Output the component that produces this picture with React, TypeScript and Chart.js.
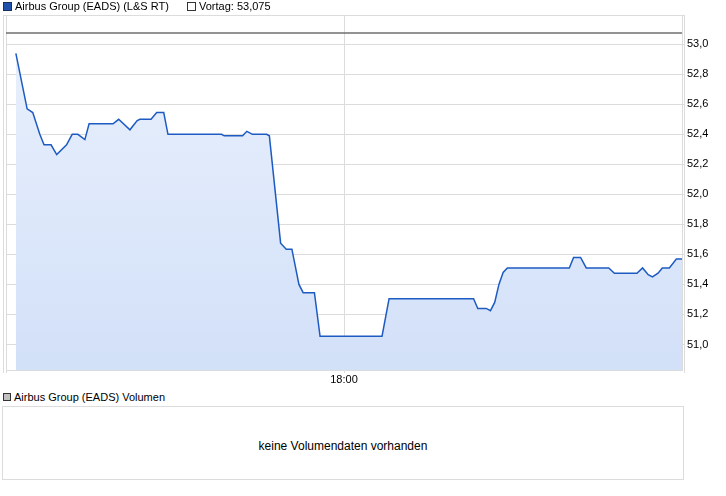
import React, { useEffect, useRef } from "react";
import { Chart, registerables } from "chart.js";

Chart.register(...registerables);

// ---- data ----
const SERIES_NAME = "Airbus Group (EADS) (L&S RT)";
const PREV_LABEL = "Vortag: 53,075";
const PREV_CLOSE = 53.075;
const VOLUME_LABEL = "Airbus Group (EADS) Volumen";
const VOLUME_EMPTY = "keine Volumendaten vorhanden";

const TIMES = [
  "14:07", "14:15", "14:19", "14:24", "14:27", "14:32", "14:36", "14:43", "14:47", "14:51",
  "14:56", "14:59", "15:16", "15:20", "15:28", "15:33", "15:35", "15:43", "15:47", "15:52",
  "15:55", "16:33", "16:35", "16:48", "16:51", "16:55", "17:05", "17:07", "17:15", "17:19",
  "17:23", "17:28", "17:31", "17:39", "17:43", "18:27", "18:32", "19:32", "19:35", "19:41",
  "19:44", "19:47", "19:50", "19:53", "19:56", "20:40", "20:43", "20:48", "20:52", "21:08",
  "21:12", "21:28", "21:32", "21:36", "21:39", "21:43", "21:46", "21:51", "21:56", "22:00",
];
const PRICES = [
  52.94, 52.57, 52.545, 52.40, 52.33, 52.33, 52.265, 52.33, 52.40, 52.40,
  52.365, 52.47, 52.47, 52.50, 52.43, 52.49, 52.50, 52.50, 52.545, 52.545,
  52.40, 52.40, 52.39, 52.39, 52.42, 52.40, 52.40, 52.39, 51.675, 51.635,
  51.635, 51.40, 51.345, 51.345, 51.055, 51.055, 51.305, 51.305, 51.24, 51.24,
  51.225, 51.28, 51.40, 51.48, 51.51, 51.51, 51.58, 51.58, 51.51, 51.51,
  51.475, 51.475, 51.51, 51.465, 51.45, 51.475, 51.51, 51.51, 51.57, 51.57,
];
const X_START = "14:00";
const X_END = "22:00";
const X_TICKS = ["18:00"];
const Y_TICKS = [51.0, 51.2, 51.4, 51.6, 51.8, 52.0, 52.2, 52.4, 52.6, 52.8, 53.0];
const Y_MIN = 50.83;
const Y_MAX = 53.195;

const FONT = "'Liberation Sans', Arial, sans-serif";
const GRID = "#dcdcdc";

function toMin(t: string): number {
  const [h, m] = t.split(":").map(Number);
  const [h0, m0] = X_START.split(":").map(Number);
  return h * 60 + m - (h0 * 60 + m0);
}

const framePlugin = {
  id: "frame",
  beforeDatasetsDraw(chart: any) {
    const { ctx, chartArea } = chart;
    if (!chartArea) return;
    const { left, right, top, bottom } = chartArea;
    ctx.save();
    ctx.strokeStyle = GRID;
    ctx.lineWidth = 1;
    ctx.beginPath();
    ctx.moveTo(left - 2.5, top + 0.5);
    ctx.lineTo(right + 2.5, top + 0.5);
    ctx.moveTo(left - 2.5, top);
    ctx.lineTo(left - 2.5, bottom + 3);
    ctx.moveTo(left + 0.5, top);
    ctx.lineTo(left + 0.5, bottom + 3);
    ctx.moveTo(right + 2.5, top);
    ctx.lineTo(right + 2.5, bottom + 3);
    ctx.stroke();
    ctx.restore();
  },
};

export default function App() {
  const ref = useRef<HTMLCanvasElement | null>(null);

  useEffect(() => {
    const canvas = ref.current;
    if (!canvas) return;
    const points = TIMES.map((t, i) => ({ x: toMin(t), y: PRICES[i] }));
    const prev = [
      { x: toMin(X_START), y: PREV_CLOSE },
      { x: toMin(X_END), y: PREV_CLOSE },
    ];
    const chart = new Chart(canvas, {
      type: "line",
      data: {
        datasets: [
          {
            label: "Vortag",
            data: prev,
            borderColor: "#6f6f6f",
            borderWidth: 1.5,
            pointRadius: 0,
            fill: false,
            order: 0,
          },
          {
            label: SERIES_NAME,
            data: points,
            borderColor: "#1d5bc2",
            borderWidth: 1.5,
            pointRadius: 0,
            tension: 0,
            fill: "start",
            order: 1,
            backgroundColor: (c: any) => {
              const area = c.chart.chartArea;
              if (!area) return "#dfe9f9";
              const g = c.chart.ctx.createLinearGradient(0, area.top, 0, area.bottom);
              g.addColorStop(0, "#eaf1fc");
              g.addColorStop(1, "#d2e0f8");
              return g;
            },
          },
        ],
      },
      options: {
        animation: false,
        responsive: false,
        maintainAspectRatio: false,
        devicePixelRatio: 1,
        layout: { padding: { top: 15, left: 6, right: 0, bottom: 0 } },
        plugins: {
          legend: { display: false },
          tooltip: { enabled: false },
        },
        scales: {
          x: {
            type: "linear",
            min: toMin(X_START),
            max: toMin(X_END),
            afterBuildTicks: (scale: any) => {
              scale.ticks = X_TICKS.map((t) => ({ value: toMin(t) }));
            },
            afterFit: (scale: any) => {
              scale.height = 20;
            },
            ticks: {
              autoSkip: false,
              maxRotation: 0,
              padding: 0,
              color: "#000",
              font: { family: FONT, size: 11 },
              callback: (v: any) => {
                const i = X_TICKS.findIndex((t) => toMin(t) === v);
                return i >= 0 ? X_TICKS[i] : "";
              },
            },
            grid: { color: GRID, tickLength: 3, drawTicks: true },
            border: { color: GRID },
          },
          y: {
            type: "linear",
            position: "right",
            min: Y_MIN,
            max: Y_MAX,
            afterBuildTicks: (scale: any) => {
              scale.ticks = Y_TICKS.map((v) => ({ value: v }));
            },
            afterFit: (scale: any) => {
              scale.width = 44;
            },
            ticks: {
              padding: 2,
              color: "#000",
              font: { family: FONT, size: 11 },
              callback: (v: any) => Number(v).toFixed(1).replace(".", ","),
            },
            grid: { color: GRID, tickLength: 3 },
            border: { color: GRID },
          },
        },
      },
      plugins: [framePlugin],
    } as any);
    return () => chart.destroy();
  }, []);

  const text: React.CSSProperties = {
    position: "absolute",
    fontFamily: FONT,
    fontSize: 11,
    color: "#000",
    lineHeight: "12px",
    whiteSpace: "nowrap",
  };

  return (
    <div
      style={{
        position: "fixed",
        left: 0,
        top: 0,
        width: 726,
        height: 496,
        background: "#fff",
        overflow: "hidden",
      }}
    >
      <canvas
        ref={ref}
        width={726}
        height={390}
        style={{ position: "absolute", left: 0, top: 0, width: 726, height: 390 }}
      />
      {/* top legend */}
      <div
        style={{
          position: "absolute",
          left: 3,
          top: 2,
          width: 7,
          height: 7,
          background: "#1f50ac",
          border: "1px solid #1a2f5a",
        }}
      />
      <div style={{ ...text, left: 15, top: 0 }}>{SERIES_NAME}</div>
      <div
        style={{
          position: "absolute",
          left: 187,
          top: 2,
          width: 7,
          height: 7,
          background: "#fff",
          border: "1px solid #333",
        }}
      />
      <div style={{ ...text, left: 199, top: 0 }}>{PREV_LABEL}</div>

      {/* volume panel */}
      <div
        style={{
          position: "absolute",
          left: 3,
          top: 393,
          width: 6,
          height: 6,
          background: "#c0c0c0",
          border: "1px solid #333",
        }}
      />
      <div style={{ ...text, left: 14, top: 391 }}>{VOLUME_LABEL}</div>
      <div
        style={{
          position: "absolute",
          left: 2,
          top: 406,
          width: 682,
          height: 74,
          border: `1px solid ${GRID}`,
          boxSizing: "border-box",
        }}
      />
      <div
        style={{
          ...text,
          fontSize: 12,
          left: 2,
          width: 682,
          top: 440,
          textAlign: "center",
        }}
      >
        {VOLUME_EMPTY}
      </div>
    </div>
  );
}
